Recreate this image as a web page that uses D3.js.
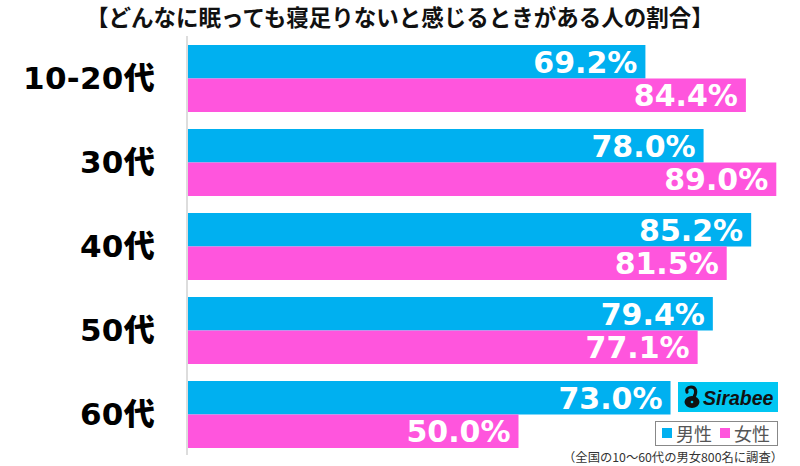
<!DOCTYPE html>
<html><head><meta charset="utf-8">
<script src="https://cdn.jsdelivr.net/npm/d3@7"></script>
<style>body{margin:0;background:#fff}svg{display:block}</style>
</head><body>
<svg id="c" width="800" height="466"></svg>
<script>
const title = "【どんなに眠っても寝足りないと感じるときがある人の割合】";
const categories = ["10-20代","30代","40代","50代","60代"];
const seriesNames = ["男性","女性"];
const male   = [69.2, 78.0, 85.2, 79.4, 73.0];
const female = [84.4, 89.0, 81.5, 77.1, 50.0];
const footnote = "（全国の10〜60代の男女800名に調査）";
const colors = ["#00b0f0", "#ff55dd"];

const svg = d3.select("#c");
const x = d3.scaleLinear().domain([0, 100]).range([188, 849]);
const y = d3.scaleBand().domain(categories).range([36.5, 456.5]).paddingInner(0.2024).paddingOuter(0.1012);
const ys = d3.scaleBand().domain(seriesNames).range([0, y.bandwidth()]);

const rows = categories.map((c, i) => ({cat: c, vals: [male[i], female[i]]}));

svg.append("text").attr("x", 400).attr("y", 26).attr("text-anchor", "middle")
  .style("font-family", "'Noto Sans CJK JP'").style("font-weight", 700).style("font-size", "22.5px")
  .attr("fill", "#111").text(title);

const g = svg.selectAll("g.row").data(rows).join("g").attr("class", "row")
  .attr("transform", d => `translate(0,${y(d.cat)})`);

g.selectAll("rect").data(d => d.vals.map((v, j) => ({v, s: seriesNames[j], j}))).join("rect")
  .attr("x", x(0)).attr("y", d => ys(d.s)).attr("width", d => x(d.v) - x(0)).attr("height", ys.bandwidth())
  .attr("fill", d => colors[d.j]);

g.selectAll("text.val").data(d => d.vals.map((v, j) => ({v, s: seriesNames[j], j}))).join("text")
  .attr("class", "val").attr("x", d => x(d.v) - 8).attr("y", d => ys(d.s) + ys.bandwidth() / 2 + 11)
  .attr("text-anchor", "end").attr("fill", "#fff")
  .style("font-family", "'DejaVu Sans'").style("font-weight", 700).style("font-size", "30px")
  .text(d => d.v.toFixed(1) + "%");

g.append("text").attr("x", 155).attr("y", y.bandwidth() / 2 + 11).attr("text-anchor", "end")
  .attr("fill", "#000").style("font-family", "'DejaVu Sans','Noto Sans CJK JP'").style("font-weight", 900)
  .style("font-size", "31px").style("letter-spacing", "0.3px").text(d => d.cat);

// axis line
svg.append("line").attr("x1", 187).attr("x2", 187).attr("y1", 36).attr("y2", 455)
  .attr("stroke", "#ddd").attr("stroke-width", 2);

// logo
const lg = svg.append("g");
lg.append("rect").attr("x", 678).attr("y", 382).attr("width", 100).attr("height", 30).attr("fill", "#00c6f2");
lg.append("ellipse").attr("cx", 692).attr("cy", 402).attr("rx", 7.5).attr("ry", 6).attr("fill", "#111");
lg.append("path").attr("d", "M694,397 C697,392 696,387 691,387 C687,387 686,390 687,392")
  .attr("fill", "none").attr("stroke", "#111").attr("stroke-width", 3.2).attr("stroke-linecap", "round");
lg.append("circle").attr("cx", 692).attr("cy", 402).attr("r", 1.3).attr("fill", "#00c6f2");
lg.append("text").attr("x", 703).attr("y", 405).attr("fill", "#111")
  .style("font-family", "'Liberation Sans'").style("font-weight", 700).style("font-style", "italic")
  .style("font-size", "19.5px").text("Sirabee");

// legend
const leg = svg.append("g");
leg.append("rect").attr("x", 655.5).attr("y", 421.5).attr("width", 122).attr("height", 24)
  .attr("fill", "#fff").attr("stroke", "#888").attr("stroke-width", 1);
seriesNames.forEach((s, j) => {
  const lx = 662 + j * 58;
  leg.append("rect").attr("x", lx).attr("y", 428).attr("width", 10).attr("height", 10).attr("fill", colors[j]);
  leg.append("text").attr("x", lx + 14).attr("y", 441).attr("fill", "#555")
    .style("font-family", "'Noto Sans CJK JP'").style("font-size", "18px").text(s);
});

svg.append("text").attr("x", 783).attr("y", 462).attr("text-anchor", "end").attr("fill", "#333")
  .style("font-family", "'Noto Sans CJK JP'").style("font-size", "12.3px").text(footnote);
</script>
</body></html>
